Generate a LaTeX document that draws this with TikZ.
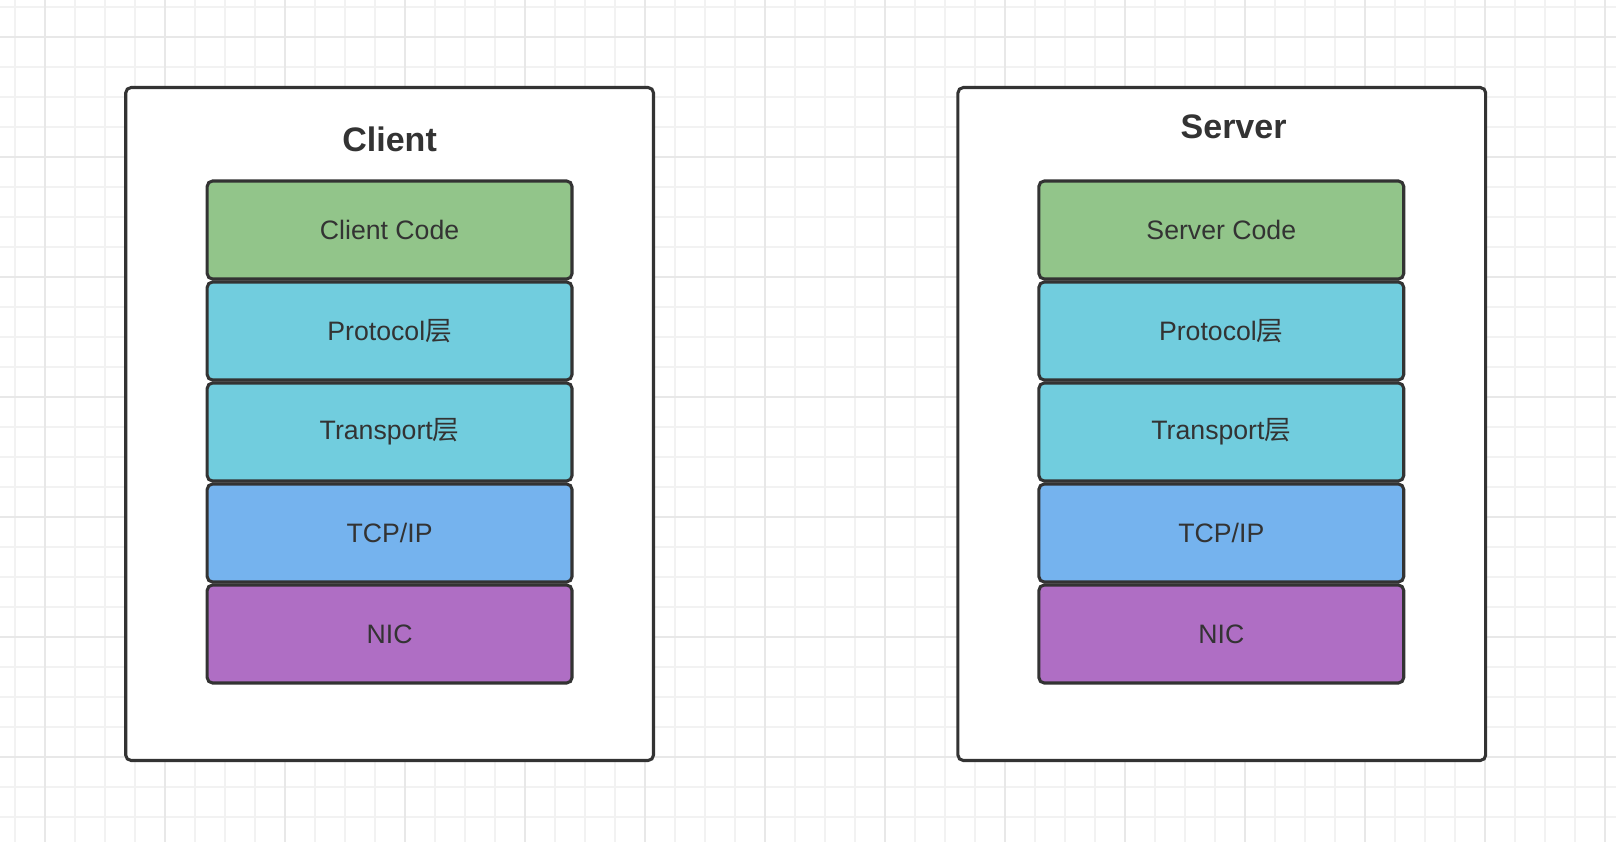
\documentclass[tikz,border=0pt]{standalone}
\usepackage{fontspec}
\setmainfont{Liberation Sans}
\newfontfamily\cjk{Noto Sans CJK SC}
\usepackage{tikz}
\usetikzlibrary{positioning, calc, backgrounds}
\definecolor{Ink}{HTML}{333333}
\definecolor{GridMinor}{HTML}{F2F2F2}
\definecolor{GridMajor}{HTML}{E8E8E8}
\definecolor{CodeGreen}{HTML}{92C58A}
\definecolor{LayerCyan}{HTML}{71CDDE}
\definecolor{NetBlue}{HTML}{75B3EE}
\definecolor{NicPurple}{HTML}{AF6EC4}
\newcommand{\ceng}{{\cjk 层}}
\tikzset{
    hostbox/.style={rectangle, rounded corners=4pt, draw=Ink, line width=2.3pt,
                    fill=white, minimum width=395.8pt, minimum height=504.7pt},
    hosttitle/.style={text=Ink, font=\fontsize{25.5}{28}\selectfont\bfseries},
    layerbox/.style={rectangle, rounded corners=4pt, draw=Ink, line width=2.3pt,
                     minimum width=273.6pt, minimum height=73.5pt, text=Ink,
                     font=\fontsize{20}{23}\selectfont},
}

\begin{document}
\begin{tikzpicture}[x=0.75pt, y=-0.75pt]
    \useasboundingbox (0,0) rectangle (1616,842);
    \fill[white] (0,0) rectangle (1616,842);

    % Background grid
    \foreach \x in {15,45,...,1605}
        \draw[GridMinor, line width=1pt] (\x,0) -- (\x,842);
    \foreach \y in {7,37,...,840}
        \draw[GridMinor, line width=1pt] (0,\y) -- (1616,\y);
    \foreach \x in {45,165,...,1605}
        \draw[GridMajor, line width=1.2pt] (\x,0) -- (\x,842);
    \foreach \y in {37,157,...,840}
        \draw[GridMajor, line width=1.2pt] (0,\y) -- (1616,\y);

    % Host boxes
    \node[hostbox] (client) at (389.6,424) {};
    \node[hostbox] (server) at (1221.8,424) {};
    \node[hosttitle] (clienttitle) at (389.6,139) {Client};
    \node[hosttitle] (servertitle) at (1233.6,127) {Server};

    % Layer stacks
    \foreach \host/\cx/\name in {c/389.6/Client, s/1221.3/Server} {
        \node[layerbox, fill=CodeGreen]  (\host-code)  at (\cx,230) {\name{} Code};
        \node[layerbox, fill=LayerCyan]  (\host-proto) at (\cx,331) {Protocol\ceng};
        \node[layerbox, fill=LayerCyan]  (\host-trans) at (\cx,432) {Transport\ceng};
        \node[layerbox, fill=NetBlue]    (\host-tcp)   at (\cx,533) {TCP/IP};
        \node[layerbox, fill=NicPurple]  (\host-nic)   at (\cx,634) {NIC};
    }
\end{tikzpicture}
\end{document}
